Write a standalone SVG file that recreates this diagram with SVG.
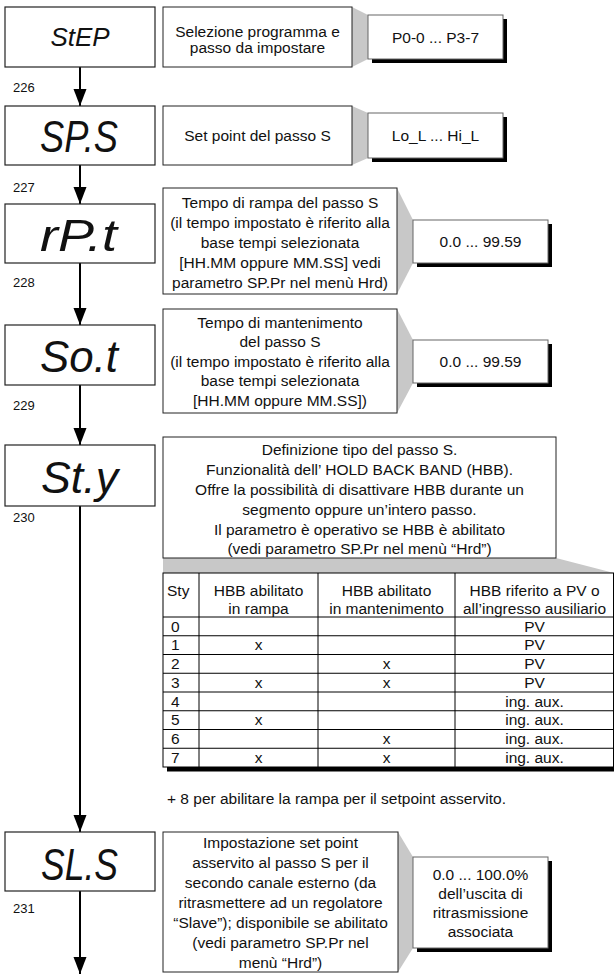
<svg xmlns="http://www.w3.org/2000/svg" width="614" height="975" viewBox="0 0 614 975">
<style>
.disp{fill:#fff;stroke:#222;stroke-width:1.2}
.desc{fill:#fff;stroke:#222;stroke-width:1}
.val{fill:#fff;stroke:#666;stroke-width:1}
.shd{fill:#000}
.band{fill:#c8c8c8}
.t{font-family:"Liberation Sans",Arial,Helvetica,sans-serif;font-size:15.5px;fill:#111;text-anchor:middle}
.tl{font-family:"Liberation Sans",Arial,Helvetica,sans-serif;font-size:15.5px;fill:#111;text-anchor:start}
.lbl{font-family:"Liberation Sans",Arial,Helvetica,sans-serif;font-size:13px;fill:#111}
.seg{font-family:"Liberation Sans",Arial,sans-serif;font-style:italic;font-size:44px;fill:#111}
.conn line{stroke:#000;stroke-width:2}
.tab line{stroke:#000;stroke-width:1}
</style>
<defs>
<marker id="ah" markerUnits="userSpaceOnUse" markerWidth="18" markerHeight="14" refX="17" refY="7" orient="auto">
<path d="M0,0.5 L17,7 L0,13.5 z" fill="#000"/>
</marker>
</defs>

<g class="conn" id="connectors">
<line x1="80" y1="67" x2="80" y2="106" marker-end="url(#ah)"/>
<line x1="80" y1="165" x2="80" y2="204" marker-end="url(#ah)"/>
<line x1="80" y1="263" x2="80" y2="325" marker-end="url(#ah)"/>
<line x1="80" y1="385" x2="80" y2="445" marker-end="url(#ah)"/>
<line x1="80" y1="506" x2="80" y2="832" marker-end="url(#ah)"/>
<line x1="80" y1="891" x2="80" y2="974" marker-end="url(#ah)"/>
</g>

<!-- Row 226 -->
<g id="n-step">
<rect class="disp" x="5" y="7" width="150" height="60"/>
<text x="80" y="46" style="font-family:'Liberation Sans',Arial,sans-serif;font-style:italic;font-size:26px;fill:#111;text-anchor:middle">StEP</text>
</g>
<text class="lbl" x="13" y="92">226</text>
<g id="d-step">
<polygon class="band" points="352,7 368,15 368,59 352,67"/>
<rect class="desc" x="163" y="7" width="189" height="60"/>
<text class="t" x="257.5" y="36.5">Selezione programma e</text>
<text class="t" x="257.5" y="53">passo da impostare</text>
</g>
<g id="v-step">
<rect class="shd" x="372" y="19" width="135" height="44"/>
<rect class="val" x="368" y="15" width="135" height="44"/>
<text class="t" x="435.5" y="42.5">P0-0 ... P3-7</text>
</g>

<!-- Row 227 -->
<g id="n-sps">
<rect class="disp" x="5" y="106" width="150" height="59"/>
<text class="seg" x="40" y="152" textLength="78" lengthAdjust="spacingAndGlyphs">SP.S</text>
</g>
<text class="lbl" x="13" y="192">227</text>
<g id="d-sps">
<polygon class="band" points="352,106 368,113 368,158 352,165"/>
<rect class="desc" x="163" y="106" width="189" height="59"/>
<text class="t" x="257.5" y="141">Set point del passo S</text>
</g>
<g id="v-sps">
<rect class="shd" x="372" y="117" width="135" height="45"/>
<rect class="val" x="368" y="113" width="135" height="45"/>
<text class="t" x="435.5" y="141">Lo_L ... Hi_L</text>
</g>

<!-- Row 228 -->
<g id="n-rpt">
<rect class="disp" x="5" y="204" width="150" height="59"/>
<text class="seg" x="40" y="251" textLength="77" lengthAdjust="spacingAndGlyphs">rP.t</text>
</g>
<text class="lbl" x="13" y="287">228</text>
<g id="d-rpt">
<polygon class="band" points="397,188 413,220 413,263 397,294"/>
<rect class="desc" x="163" y="188" width="234" height="106"/>
<text class="t" x="280" y="207.5">Tempo di rampa del passo S</text>
<text class="t" x="280" y="227.5">(il tempo impostato è riferito alla</text>
<text class="t" x="280" y="247.5">base tempi selezionata</text>
<text class="t" x="280" y="267.5">[HH.MM oppure MM.SS] vedi</text>
<text class="t" x="280" y="287.5">parametro SP.Pr nel menù Hrd)</text>
</g>
<g id="v-rpt">
<rect class="shd" x="417" y="224" width="135" height="43"/>
<rect class="val" x="413" y="220" width="135" height="43"/>
<text class="t" x="480.5" y="247">0.0 ... 99.59</text>
</g>

<!-- Row 229 -->
<g id="n-sot">
<rect class="disp" x="5" y="325" width="150" height="60"/>
<text class="seg" x="40" y="372" textLength="78" lengthAdjust="spacingAndGlyphs">So.t</text>
</g>
<text class="lbl" x="13" y="410">229</text>
<g id="d-sot">
<polygon class="band" points="397,309 413,340 413,383 397,413"/>
<rect class="desc" x="163" y="309" width="234" height="104"/>
<text class="t" x="280" y="327.5">Tempo di mantenimento</text>
<text class="t" x="280" y="347">del passo S</text>
<text class="t" x="280" y="366.5">(il tempo impostato è riferito alla</text>
<text class="t" x="280" y="386">base tempi selezionata</text>
<text class="t" x="280" y="405.5">[HH.MM oppure MM.SS])</text>
</g>
<g id="v-sot">
<rect class="shd" x="417" y="344" width="135" height="43"/>
<rect class="val" x="413" y="340" width="135" height="43"/>
<text class="t" x="480.5" y="367">0.0 ... 99.59</text>
</g>

<!-- Row 230 -->
<g id="n-sty">
<rect class="disp" x="5" y="445" width="150" height="61"/>
<text class="seg" x="41" y="493" textLength="77" lengthAdjust="spacingAndGlyphs">St.y</text>
</g>
<text class="lbl" x="13" y="522">230</text>
<g id="d-sty">
<polygon class="band" points="163,558 556,558 614,573 163,573"/>
<rect class="desc" x="163" y="437" width="393" height="121"/>
<text class="t" x="359.5" y="454.5">Definizione tipo del passo S.</text>
<text class="t" x="359.5" y="474.5">Funzionalità dell’ HOLD BACK BAND (HBB).</text>
<text class="t" x="359.5" y="494.5">Offre la possibilità di disattivare HBB durante un</text>
<text class="t" x="359.5" y="514.5">segmento oppure un’intero passo.</text>
<text class="t" x="359.5" y="534.5">Il parametro è operativo se HBB è abilitato</text>
<text class="t" x="359.5" y="554">(vedi parametro SP.Pr nel menù “Hrd”)</text>
</g>
<g id="table" class="tab">
<rect class="shd" x="167" y="767" width="447" height="4.5"/>
<rect x="163" y="573" width="450.5" height="194" fill="#fff" stroke="#000" stroke-width="1"/>
<line x1="199" y1="573" x2="199" y2="767"/>
<line x1="318" y1="573" x2="318" y2="767"/>
<line x1="455" y1="573" x2="455" y2="767"/>
<line x1="163" y1="617" x2="614" y2="617"/>
<line x1="163" y1="635.75" x2="614" y2="635.75"/>
<line x1="163" y1="654.5" x2="614" y2="654.5"/>
<line x1="163" y1="673.25" x2="614" y2="673.25"/>
<line x1="163" y1="692" x2="614" y2="692"/>
<line x1="163" y1="710.75" x2="614" y2="710.75"/>
<line x1="163" y1="729.5" x2="614" y2="729.5"/>
<line x1="163" y1="748.25" x2="614" y2="748.25"/>
<text class="tl" x="167" y="595.5">Sty</text>
<text class="t" x="258.5" y="595.5">HBB abilitato</text>
<text class="t" x="258.5" y="613.5">in rampa</text>
<text class="t" x="386.5" y="595.5">HBB abilitato</text>
<text class="t" x="386.5" y="613.5">in mantenimento</text>
<text class="t" x="534.5" y="595.5">HBB riferito a PV o</text>
<text class="t" x="534.5" y="613.5">all’ingresso ausiliario</text>
<text class="tl" x="171" y="631.5">0</text>
<text class="tl" x="171" y="650.25">1</text>
<text class="tl" x="171" y="669">2</text>
<text class="tl" x="171" y="687.75">3</text>
<text class="tl" x="171" y="706.5">4</text>
<text class="tl" x="171" y="725.25">5</text>
<text class="tl" x="171" y="744">6</text>
<text class="tl" x="171" y="762.75">7</text>
<text class="t" x="258.5" y="650.25">x</text>
<text class="t" x="258.5" y="687.75">x</text>
<text class="t" x="258.5" y="725.25">x</text>
<text class="t" x="258.5" y="762.75">x</text>
<text class="t" x="386.5" y="669">x</text>
<text class="t" x="386.5" y="687.75">x</text>
<text class="t" x="386.5" y="744">x</text>
<text class="t" x="386.5" y="762.75">x</text>
<text class="t" x="534.5" y="631.5">PV</text>
<text class="t" x="534.5" y="650.25">PV</text>
<text class="t" x="534.5" y="669">PV</text>
<text class="t" x="534.5" y="687.75">PV</text>
<text class="t" x="534.5" y="706.5">ing. aux.</text>
<text class="t" x="534.5" y="725.25">ing. aux.</text>
<text class="t" x="534.5" y="744">ing. aux.</text>
<text class="t" x="534.5" y="762.75">ing. aux.</text>
</g>
<text class="tl" x="167" y="803.5">+ 8 per abilitare la rampa per il setpoint asservito.</text>

<!-- Row 231 -->
<g id="n-sls">
<rect class="disp" x="5" y="832" width="150" height="59"/>
<text class="seg" x="41" y="880" textLength="77" lengthAdjust="spacingAndGlyphs">SL.S</text>
</g>
<text class="lbl" x="13" y="913">231</text>
<g id="d-sls">
<polygon class="band" points="398,832 413,857 413,948 398,972"/>
<rect class="desc" x="163" y="832" width="235" height="140"/>
<text class="t" x="280.5" y="848">Impostazione set point</text>
<text class="t" x="280.5" y="868">asservito al passo S per il</text>
<text class="t" x="280.5" y="888">secondo canale esterno (da</text>
<text class="t" x="280.5" y="908">ritrasmettere ad un regolatore</text>
<text class="t" x="280.5" y="928">“Slave”); disponibile se abilitato</text>
<text class="t" x="280.5" y="948">(vedi parametro SP.Pr nel</text>
<text class="t" x="280.5" y="968">menù “Hrd”)</text>
</g>
<g id="v-sls">
<rect class="shd" x="417" y="861" width="135" height="91"/>
<rect class="val" x="413" y="857" width="135" height="91"/>
<text class="t" x="480.5" y="880">0.0 ... 100.0%</text>
<text class="t" x="480.5" y="899">dell’uscita di</text>
<text class="t" x="480.5" y="918">ritrasmissione</text>
<text class="t" x="480.5" y="937">associata</text>
</g>
</svg>
